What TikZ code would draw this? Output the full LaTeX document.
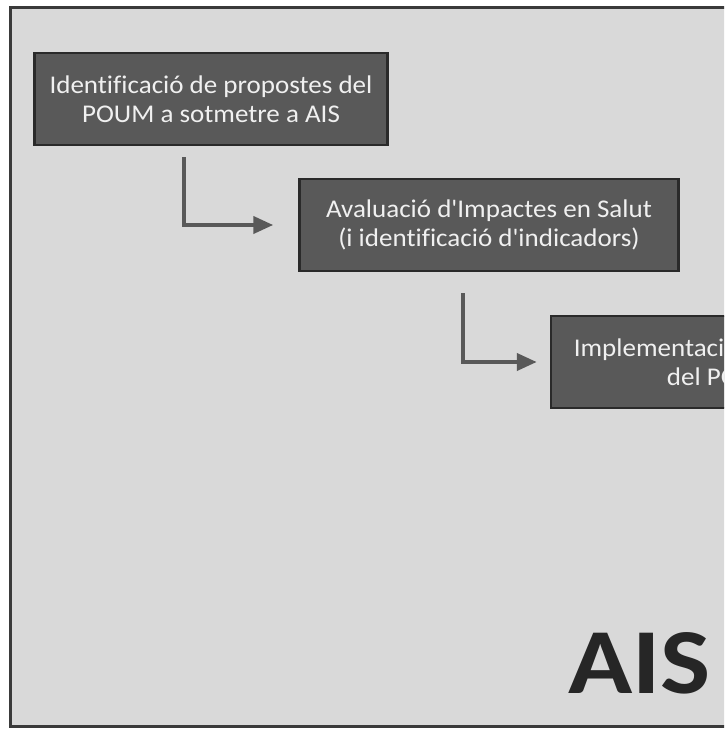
\documentclass[tikz,border=0pt]{standalone}
\usepackage{fontspec}
\setmainfont{Carlito}
\newfontfamily\boxfont{Carlito}[FakeStretch=1.06, RawFeature={-liga}]
\newfontfamily\aisfont{Carlito}[FakeStretch=1.14]
\usetikzlibrary{arrows.meta}
\definecolor{panel}{HTML}{D9D9D9}
\definecolor{framec}{HTML}{3A3A3A}
\definecolor{boxfill}{HTML}{595959}
\definecolor{boxedge}{HTML}{2A2A2A}
\definecolor{boxtext}{HTML}{F0F0F0}
\definecolor{arrowc}{HTML}{595959}
\definecolor{aisc}{HTML}{262626}
\tikzset{
  stepbox/.style={draw=boxedge, line width=2.5pt, fill=boxfill, text=boxtext,
    align=center, inner sep=0pt, minimum height=92pt,
    font=\boxfont\fontsize{25.5}{29}\selectfont},
  flow/.style={draw=arrowc, line width=4pt, line join=miter,
    -{Triangle[length=20pt,width=17pt]}},
}
\begin{document}
\begin{tikzpicture}[x=1pt,y=-1pt]
\useasboundingbox (0,0) rectangle (724,729);
\clip (0,0) rectangle (724,729);
\fill[white] (0,0) rectangle (724,729);
\draw[draw=framec, fill=panel, line width=3pt] (10,7) rectangle (1000,726);
\node[stepbox, minimum width=353pt] (b1) at (211,99)
  {Identificació de propostes del\\POUM a sotmetre a AIS};
\node[stepbox, minimum width=379pt] (b2) at (489,225)
  {Avaluació d'Impactes en Salut\\(i identificació d'indicadors)};
\node[stepbox, minimum width=344pt] (b3) at (723,362)
  {Implementació i seguiment\\del POUM};
\coordinate (c1) at (184,157);
\coordinate (c2) at (463,293);
\draw[flow, shorten >=25pt] (c1) |- (b2.west);
\draw[flow, shorten >=13pt] (c2) |- (b3.west);
\node[anchor=base west, inner sep=0pt, text=aisc,
  font=\aisfont\bfseries\fontsize{93}{93}\selectfont] (ais) at (568,693) {AIS};
\end{tikzpicture}
\end{document}
